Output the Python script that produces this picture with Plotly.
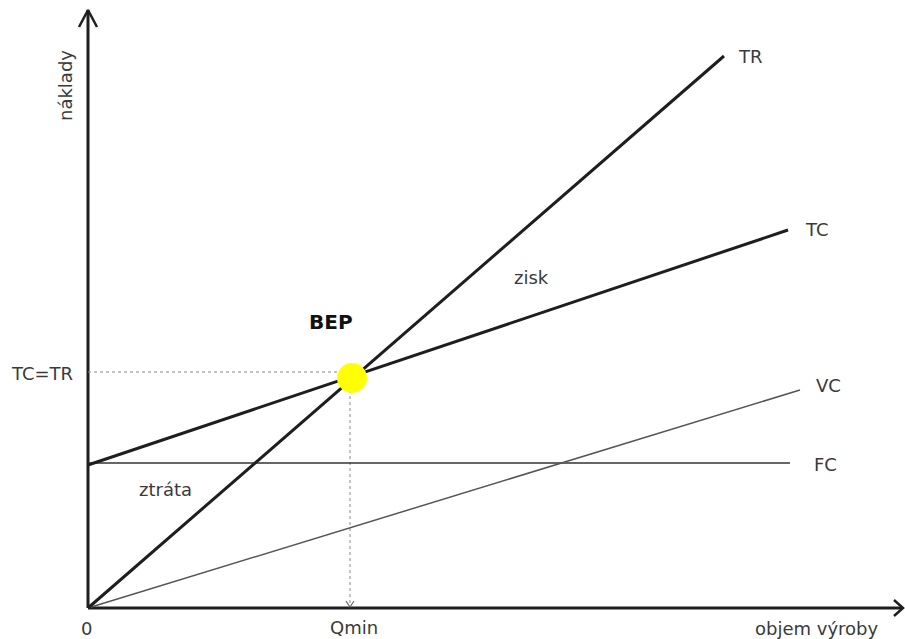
import plotly.graph_objects as go

# Break-even chart: quantity on x, costs/revenue on y (arbitrary units)
q_end_tr, tr_end = 636, 552          # total revenue TR
q_end_tc, tc_start, tc_end = 700, 143, 378   # total cost TC
q_end_vc, vc_end = 712, 218          # variable cost VC
q_end_fc, fc_level = 702, 145        # fixed cost FC
q_bep, c_bep = 262, 236              # break-even point (Qmin, TC=TR)

x_axis_end, y_axis_end = 815, 598

line_labels = ["TR", "TC", "VC", "FC"]

fig = go.Figure()

dark = "#1e1e1e"

# axes
fig.add_trace(go.Scatter(x=[0, 0], y=[0, y_axis_end], mode="lines",
                         line=dict(color=dark, width=3), hoverinfo="skip"))
fig.add_trace(go.Scatter(x=[0, x_axis_end], y=[0, 0], mode="lines",
                         line=dict(color=dark, width=3), hoverinfo="skip"))
# open arrowheads on axes
fig.add_trace(go.Scatter(x=[-9, 0, 9], y=[y_axis_end - 17, y_axis_end, y_axis_end - 17],
                         mode="lines", line=dict(color=dark, width=2.5), hoverinfo="skip"))
fig.add_trace(go.Scatter(x=[x_axis_end - 9, x_axis_end, x_axis_end - 9], y=[8, 0, -8],
                         mode="lines", line=dict(color=dark, width=2.5), hoverinfo="skip"))

# dotted guides to the break-even point
fig.add_trace(go.Scatter(x=[0, q_bep], y=[c_bep, c_bep], mode="lines",
                         line=dict(color="#888", width=1, dash="dot"), hoverinfo="skip"))
fig.add_trace(go.Scatter(x=[q_bep, q_bep], y=[c_bep, 1], mode="lines",
                         line=dict(color="#888", width=1, dash="dot"), hoverinfo="skip"))
fig.add_trace(go.Scatter(x=[q_bep - 4, q_bep, q_bep + 4], y=[7, 1, 7], mode="lines",
                         line=dict(color="#666", width=1.2), hoverinfo="skip"))

# cost and revenue lines
fig.add_trace(go.Scatter(x=[0, q_end_fc], y=[fc_level, fc_level], mode="lines",
                         line=dict(color="#333", width=1.5), hoverinfo="skip"))
fig.add_trace(go.Scatter(x=[0, q_end_vc], y=[0, vc_end], mode="lines",
                         line=dict(color="#555", width=1.5), hoverinfo="skip"))
fig.add_trace(go.Scatter(x=[0, q_end_tc], y=[tc_start, tc_end], mode="lines",
                         line=dict(color=dark, width=3), hoverinfo="skip"))
fig.add_trace(go.Scatter(x=[0, q_end_tr], y=[0, tr_end], mode="lines",
                         line=dict(color=dark, width=3), hoverinfo="skip"))

# break-even marker
fig.add_trace(go.Scatter(x=[q_bep + 2], y=[c_bep - 6], mode="markers",
                         marker=dict(color="#ffff00", size=30, line=dict(width=0)),
                         hoverinfo="skip"))

font = dict(family="DejaVu Sans, Verdana, sans-serif", size=18, color="#3a3a3a")
ann = []
def label(x, y, text, **kw):
    d = dict(x=x, y=y, text=text, showarrow=False, font=font, xref="x", yref="y")
    d.update(kw)
    ann.append(d)

label(q_end_tr + 26, tr_end, line_labels[0])
label(q_end_tc + 29, tc_end + 1, line_labels[1])
label(q_end_vc + 28, vc_end + 5, line_labels[2])
label(q_end_fc + 35, fc_level - 1, line_labels[3])
label(443, 331, "zisk")
label(77, 119, "ztráta")
label(243, 286, "<b>BEP</b>", font=dict(family="DejaVu Sans, Verdana, sans-serif", size=20, color="#111"))
label(-46, c_bep - 1, "TC=TR")
label(-2, -20, "0")
label(q_bep + 4, -19, "Qmin")
label(729, -20, "objem výroby")
label(-23, 522, "náklady", textangle=-90)

fig.update_layout(
    width=905, height=639,
    margin=dict(l=0, r=0, t=0, b=0),
    paper_bgcolor="white", plot_bgcolor="white",
    showlegend=False,
    annotations=ann,
    xaxis=dict(range=[-88, 817], visible=False, fixedrange=True),
    yaxis=dict(range=[-31, 608], visible=False, fixedrange=True),
)

fig.write_html("out.html")
